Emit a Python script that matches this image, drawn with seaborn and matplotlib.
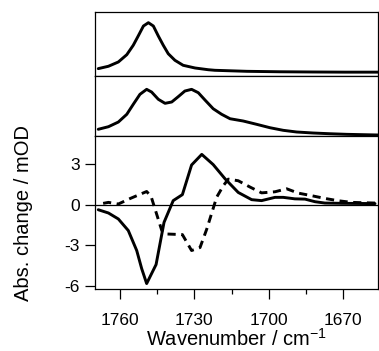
import numpy as np
import pandas as pd
import matplotlib
matplotlib.use("Agg")
import matplotlib.pyplot as plt
import seaborn as sns

# top panel: absorption spectrum 1 (arb. units)
wn_top = [1768.7, 1764.6, 1760.6, 1757.2, 1754.6, 1752.6, 1750.5, 1748.5,
          1746.5, 1744.5, 1742.5, 1740.5, 1737.8, 1734.5, 1729.7, 1724.4,
          1721.7, 1708.8, 1695.5, 1682.2, 1669.3, 1656.0]
abs_top = [0.115, 0.152, 0.219, 0.333, 0.48, 0.625, 0.781, 0.833,
           0.781, 0.625, 0.48, 0.348, 0.245, 0.167, 0.125, 0.098,
           0.089, 0.073, 0.066, 0.0625, 0.06, 0.06]

# middle panel: absorption spectrum 2 (arb. units)
wn_mid = [1768.7, 1764.6, 1760.6, 1757.2, 1754.6, 1751.9, 1749.2, 1747.2,
          1744.5, 1741.8, 1739.1, 1736.5, 1733.8, 1731.1, 1728.4, 1725.7,
          1722.4, 1719.0, 1715.6, 1710.3, 1704.9, 1699.5, 1694.2, 1688.8,
          1682.1, 1675.4, 1668.6, 1661.9, 1656.0]
abs_mid = [0.112, 0.155, 0.233, 0.362, 0.528, 0.695, 0.778, 0.733,
           0.612, 0.545, 0.567, 0.655, 0.75, 0.778, 0.722, 0.6,
           0.455, 0.362, 0.288, 0.25, 0.195, 0.138, 0.095, 0.067,
           0.05, 0.038, 0.028, 0.022, 0.017]

# bottom panel: difference spectra (mOD)
wn_solid = [1768.7, 1764.6, 1760.6, 1756.6, 1753.2, 1751.2, 1749.2, 1745.4,
            1742.2, 1738.5, 1734.8, 1731.1, 1727.0, 1722.4, 1717.6, 1712.3,
            1706.9, 1702.9, 1697.5, 1694.2, 1689.5, 1685.4, 1681.4, 1677.4,
            1670.6, 1657.2]
dod_solid = [-0.37, -0.61, -1.05, -1.9, -3.37, -4.7, -5.8, -4.4,
             -1.3, 0.3, 0.74, 2.92, 3.7, 2.95, 1.9, 0.9,
             0.37, 0.3, 0.54, 0.54, 0.43, 0.41, 0.22, 0.12,
             0.1, 0.08]

wn_dash = [1768.7, 1764.6, 1760.6, 1755.9, 1749.2, 1747.4, 1743.1, 1741.8,
           1734.8, 1731.1, 1727.7, 1725.0, 1721.0, 1718.3, 1716.3, 1712.3,
           1707.6, 1702.9, 1697.5, 1692.8, 1688.1, 1682.7, 1677.4, 1672.0,
           1666.6, 1657.2]
dod_dash = [0.03, 0.17, 0.05, 0.45, 0.97, 0.6, -1.9, -2.15,
            -2.2, -3.37, -3.15, -1.8, 0.55, 1.4, 1.88, 1.76,
            1.3, 0.87, 0.95, 1.17, 0.85, 0.66, 0.46, 0.29,
            0.17, 0.12]

xticks = [1760, 1730, 1700, 1670]
xminor = [1745, 1715, 1685]
yticks = [-6, -3, 0, 3]

sns.set_style("ticks")
plt.rcParams['font.family'] = ['Liberation Sans', 'DejaVu Sans']
plt.rcParams['mathtext.fontset'] = 'custom'
plt.rcParams['mathtext.rm'] = 'Liberation Sans'
plt.rcParams['mathtext.it'] = 'Liberation Sans'
plt.rcParams['axes.unicode_minus'] = False
for k in ['text.color', 'axes.labelcolor', 'xtick.color', 'ytick.color',
          'axes.edgecolor']:
    plt.rcParams[k] = 'black'

fig = plt.figure(figsize=(3.79, 3.51), dpi=100)
L, W = 0.2507, 0.7467
ax1 = fig.add_axes([L, 0.7835, W, 0.1823])
ax2 = fig.add_axes([L, 0.6125, W, 0.1709])
ax3 = fig.add_axes([L, 0.1766, W, 0.4359])

lw = 2.1
kw = dict(color='black', lw=lw, solid_joinstyle='round', solid_capstyle='round')
sns.lineplot(x=wn_top, y=abs_top, ax=ax1, **kw)
sns.lineplot(x=wn_mid, y=abs_mid, ax=ax2, **kw)
sns.lineplot(x=wn_solid, y=dod_solid, ax=ax3, **kw)
sns.lineplot(x=wn_dash, y=dod_dash, ax=ax3, color='black', lw=lw,
             linestyle=(0, (2.8, 1.9)))
ax3.axhline(0, color='black', lw=0.9, zorder=1)

for ax in (ax1, ax2, ax3):
    ax.set_xlim(1770, 1656)
    for s in ax.spines.values():
        s.set_linewidth(0.9)

for ax in (ax1, ax2):
    ax.set_ylim(0, 1)
    ax.set_xticks([])
    ax.set_yticks([])

ax3.set_ylim(-6.2, 5.05)
ax3.set_xticks(xticks)
ax3.set_xticks(xminor, minor=True)
ax3.set_yticks(yticks)
ax3.tick_params(axis='both', which='major', direction='out', length=7.5,
                width=0.9, labelsize=12.5)
ax3.tick_params(axis='x', which='major', pad=9.5)
ax3.tick_params(axis='y', which='major', pad=3.5)
ax3.tick_params(axis='x', which='minor', direction='out', length=3.5, width=0.9)
ax3.set_xlabel('Wavenumber / cm$^{-1}$', fontsize=14.5, labelpad=0)
ax3.set_ylabel('Abs. change / mOD', fontsize=14.5)
ax3.yaxis.set_label_coords(-0.22, 0.5)

fig.savefig('out.png', dpi=100)
